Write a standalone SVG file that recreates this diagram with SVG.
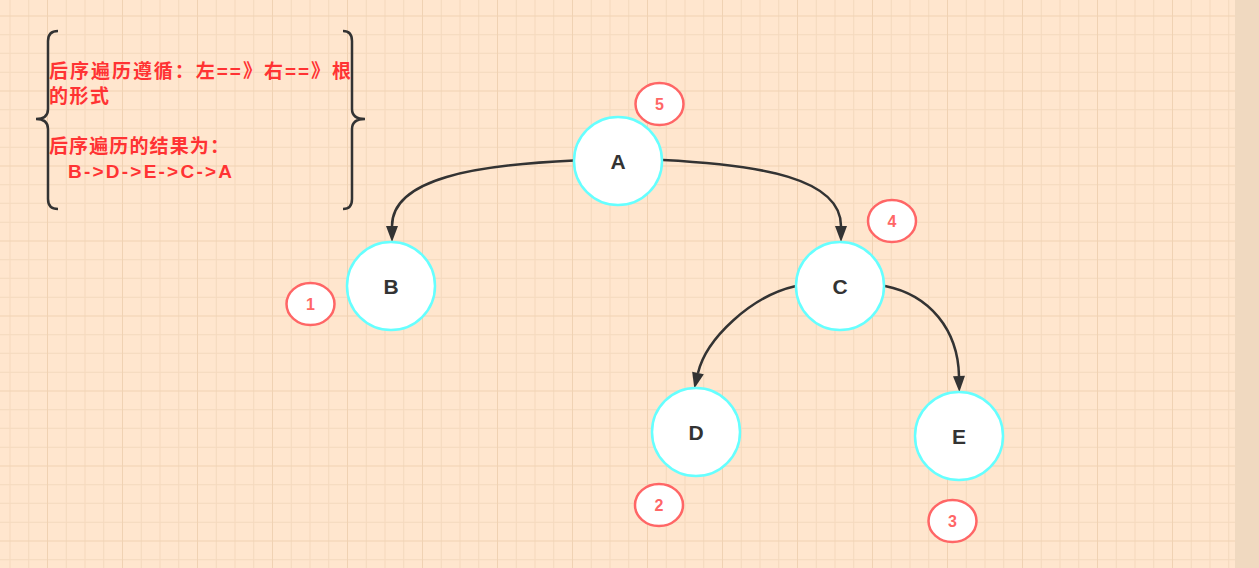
<svg xmlns="http://www.w3.org/2000/svg" width="1259" height="568" viewBox="0 0 1259 568">
  <defs>
    <pattern id="grid" patternUnits="userSpaceOnUse" x="10" y="16" width="75" height="75">
      <rect x="-0.5" y="0" width="1" height="75" fill="#F4D9BD"/>
      <rect x="18.25" y="0" width="1" height="75" fill="#F4D9BD"/>
      <rect x="55.75" y="0" width="1" height="75" fill="#F4D9BD"/>
      <rect x="74.5" y="0" width="1" height="75" fill="#F4D9BD"/>
      <rect x="0" y="18.25" width="75" height="1" fill="#F4D9BD"/>
      <rect x="0" y="36.75" width="75" height="1" fill="#F4D9BD"/>
      <rect x="0" y="55.75" width="75" height="1" fill="#F4D9BD"/>
      <rect x="37" y="0" width="1" height="75" fill="#F0D2B3"/>
      <rect x="0" y="-0.5" width="75" height="1" fill="#F0D2B3"/>
      <rect x="0" y="74.5" width="75" height="1" fill="#F0D2B3"/>
    </pattern>
    <marker id="arrow" markerUnits="userSpaceOnUse" markerWidth="18" markerHeight="14" refX="0" refY="6" orient="auto" overflow="visible">
      <path d="M0,0 L16,6 L0,12 Z" fill="#333333"/>
    </marker>
    <style>
      .node ellipse { fill: #FFFFFF; stroke: #66FFFF; stroke-width: 2.5; }
      .node text { font-family: "Liberation Sans", Arial, sans-serif; font-weight: bold; font-size: 21px; fill: #333333; text-anchor: middle; dominant-baseline: central; }
      .badge ellipse { fill: #FFFFFF; stroke: #FF6666; stroke-width: 2.5; }
      .badge text { font-family: "Liberation Sans", Arial, sans-serif; font-weight: bold; font-size: 16px; fill: #FF6666; text-anchor: middle; dominant-baseline: central; }
      .edge { fill: none; stroke: #333333; stroke-width: 2.5; marker-end: url(#arrow); }
      .brace { fill: none; stroke: #333333; stroke-width: 2.5; }
      .note { font-family: "Liberation Sans", "Noto Sans CJK SC", sans-serif; font-weight: bold; font-size: 19px; fill: #FF3333; }
    </style>
  </defs>

  <rect x="0" y="0" width="1259" height="568" fill="#FFE6CE"/>
  <rect x="0" y="0" width="1235" height="568" fill="url(#grid)"/>
  <rect x="1235" y="0" width="24" height="568" fill="#F0D9C0"/>

  <g id="note">
    <path class="brace" d="M58 31 Q48 31 48 41 L48 109 Q48 119 36 119 Q48 119 48 129 L48 199 Q48 209 58 209"/>
    <path class="brace" d="M343 31 Q352 31 352 41 L352 109 Q352 119 365 119 Q352 119 352 129 L352 199 Q352 209 343 209"/>
    <text class="note" x="49" y="78" textLength="302" lengthAdjust="spacing">后序遍历遵循：左==》右==》根</text>
    <text class="note" x="49" y="103" textLength="60" lengthAdjust="spacing">的形式</text>
    <text class="note" x="49" y="153" textLength="180" lengthAdjust="spacing">后序遍历的结果为：</text>
    <text class="note" x="68" y="178" textLength="164" lengthAdjust="spacing">B-&gt;D-&gt;E-&gt;C-&gt;A</text>
  </g>

  <g id="connectors">
    <path class="edge" d="M574 160.5 C477 165 392 178 392 226"/>
    <path class="edge" d="M663 160 C760 165 841 178 841 226"/>
    <path class="edge" d="M796 286 C751 296 706 339 698 373"/>
    <path class="edge" d="M885 286 C930 295 958 330 959 376"/>
  </g>

  <g id="node-A" class="node"><ellipse cx="618" cy="161" rx="44" ry="44"/><text x="618" y="161">A</text></g>
  <g id="node-B" class="node"><ellipse cx="391" cy="286" rx="44" ry="44"/><text x="391" y="286">B</text></g>
  <g id="node-C" class="node"><ellipse cx="840" cy="286" rx="44" ry="44"/><text x="840" y="286">C</text></g>
  <g id="node-D" class="node"><ellipse cx="696" cy="432" rx="44" ry="44"/><text x="696" y="432">D</text></g>
  <g id="node-E" class="node"><ellipse cx="959" cy="436" rx="44" ry="44"/><text x="959" y="436">E</text></g>

  <g id="badge-5" class="badge"><ellipse cx="659.5" cy="104" rx="24" ry="21"/><text x="659.5" y="104">5</text></g>
  <g id="badge-4" class="badge"><ellipse cx="892" cy="221" rx="24" ry="21"/><text x="892" y="221">4</text></g>
  <g id="badge-1" class="badge"><ellipse cx="310.5" cy="304" rx="24" ry="21"/><text x="310.5" y="304">1</text></g>
  <g id="badge-2" class="badge"><ellipse cx="659" cy="505" rx="24" ry="21"/><text x="659" y="505">2</text></g>
  <g id="badge-3" class="badge"><ellipse cx="952.5" cy="521" rx="24" ry="21"/><text x="952.5" y="521">3</text></g>
</svg>
